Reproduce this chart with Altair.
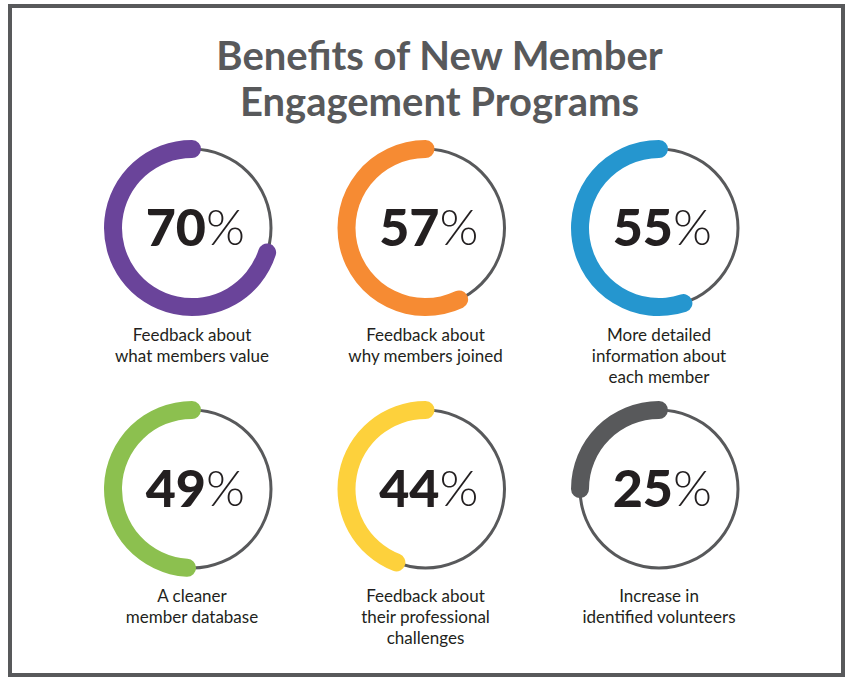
import math
import altair as alt
import pandas as pd

W, H = 863, 688

# Survey results
categories = [
    "Feedback about what members value",
    "Feedback about why members joined",
    "More detailed information about each member",
    "A cleaner member database",
    "Feedback about their professional challenges",
    "Increase in identified volunteers",
]
percents = [70, 57, 55, 49, 44, 25]
label_lines = [
    ["Feedback about", "what members value"],
    ["Feedback about", "why members joined"],
    ["More detailed", "information about", "each member"],
    ["A cleaner", "member database"],
    ["Feedback about", "their professional", "challenges"],
    ["Increase in", "identified volunteers"],
]
colors = ["#6a449a", "#f68b33", "#2596cf", "#8cc04f", "#fdd13c", "#58595b"]
title_lines = ["Benefits of New Member", "Engagement Programs"]

# Grid layout of the rings
COL_X0, COL_STEP = 192, 233.5
ROW_Y0, ROW_STEP = 228, 261
R_OUT, R_IN = 88, 70
RING_OUT, RING_IN = 80.5, 77.5
# extra arc length (in percent) so the band ends look like round line caps
cap_pct = ((R_OUT - R_IN) / 2) / (2 * math.pi * (R_OUT + R_IN) / 2) * 100

df = pd.DataFrame({
    "cat": categories,
    "pct": percents,
    "num": [str(p) for p in percents],
    "label": label_lines,
})
df["cx"] = [COL_X0 + (i % 3) * COL_STEP for i in range(len(df))]
df["cy"] = [ROW_Y0 + (i // 3) * ROW_STEP for i in range(len(df))]

xs = alt.Scale(domain=[0, W])
ys = alt.Scale(domain=[0, H], reverse=True)
ts = alt.Scale(domain=[0, 100], range=[0, 2 * math.pi])

X = alt.X("cx:Q", scale=xs, axis=None)
Y = alt.Y("cy:Q", scale=ys, axis=None)

base = alt.Chart(df)

ring = base.transform_calculate(t0="0", t1="100").mark_arc(
    color="#58595b"
).encode(
    x=X, y=Y,
    theta=alt.Theta("t0:Q", scale=ts, stack=None),
    theta2="t1:Q",
    radius=alt.value(RING_OUT),
    radius2=alt.value(RING_IN),
)

band = base.transform_calculate(
    a0=f"100 - datum.pct - {cap_pct}",
    a1=f"100 + {cap_pct}",
).mark_arc(cornerRadius=(R_OUT - R_IN) / 2).encode(
    x=X, y=Y,
    theta=alt.Theta("a0:Q", scale=ts, stack=None),
    theta2="a1:Q",
    radius=alt.value(R_OUT),
    radius2=alt.value(R_IN),
    color=alt.Color("cat:N", scale=alt.Scale(domain=categories, range=colors), legend=None),
)

number = base.mark_text(
    font="Lato", fontWeight=900, fontSize=52, color="#231f20",
    align="right", baseline="middle", dx=14, dy=2,
).encode(x=X, y=Y, text="num:N")

percent_sign = base.mark_text(
    font="Lato", fontWeight=300, fontSize=50, color="#231f20",
    align="left", baseline="middle", dx=14, dy=2,
).encode(x=X, y=Y, text=alt.value("%"))

caption = base.mark_text(
    font="Lato", fontSize=17, color="#231f20", lineHeight=21,
    align="center", baseline="top", dy=100,
).encode(x=X, y=Y, text="label:N")

title_df = pd.DataFrame({"t": title_lines, "tx": [W / 2 + 8] * 2, "ty": [58, 104]})
title = alt.Chart(title_df).mark_text(
    font="Lato", fontWeight="bold", fontSize=40, color="#58595b",
    align="center", baseline="middle",
).encode(
    x=alt.X("tx:Q", scale=xs, axis=None),
    y=alt.Y("ty:Q", scale=ys, axis=None),
    text="t:N",
)

frame = alt.Chart(pd.DataFrame({"x0": [10], "x1": [843], "y0": [6], "y1": [675]})).mark_rect(
    fill="white", stroke="#58595b", strokeWidth=4,
).encode(
    x=alt.X("x0:Q", scale=xs, axis=None), x2="x1:Q",
    y=alt.Y("y0:Q", scale=ys, axis=None), y2="y1:Q",
)

chart = alt.layer(frame, title, ring, band, number, percent_sign, caption).properties(
    width=W, height=H, padding=0, autosize=alt.AutoSizeParams(type="none"),
    background="white",
).configure_view(stroke=None)

chart.save("out.html", embed_options={"renderer": "svg", "actions": False})
